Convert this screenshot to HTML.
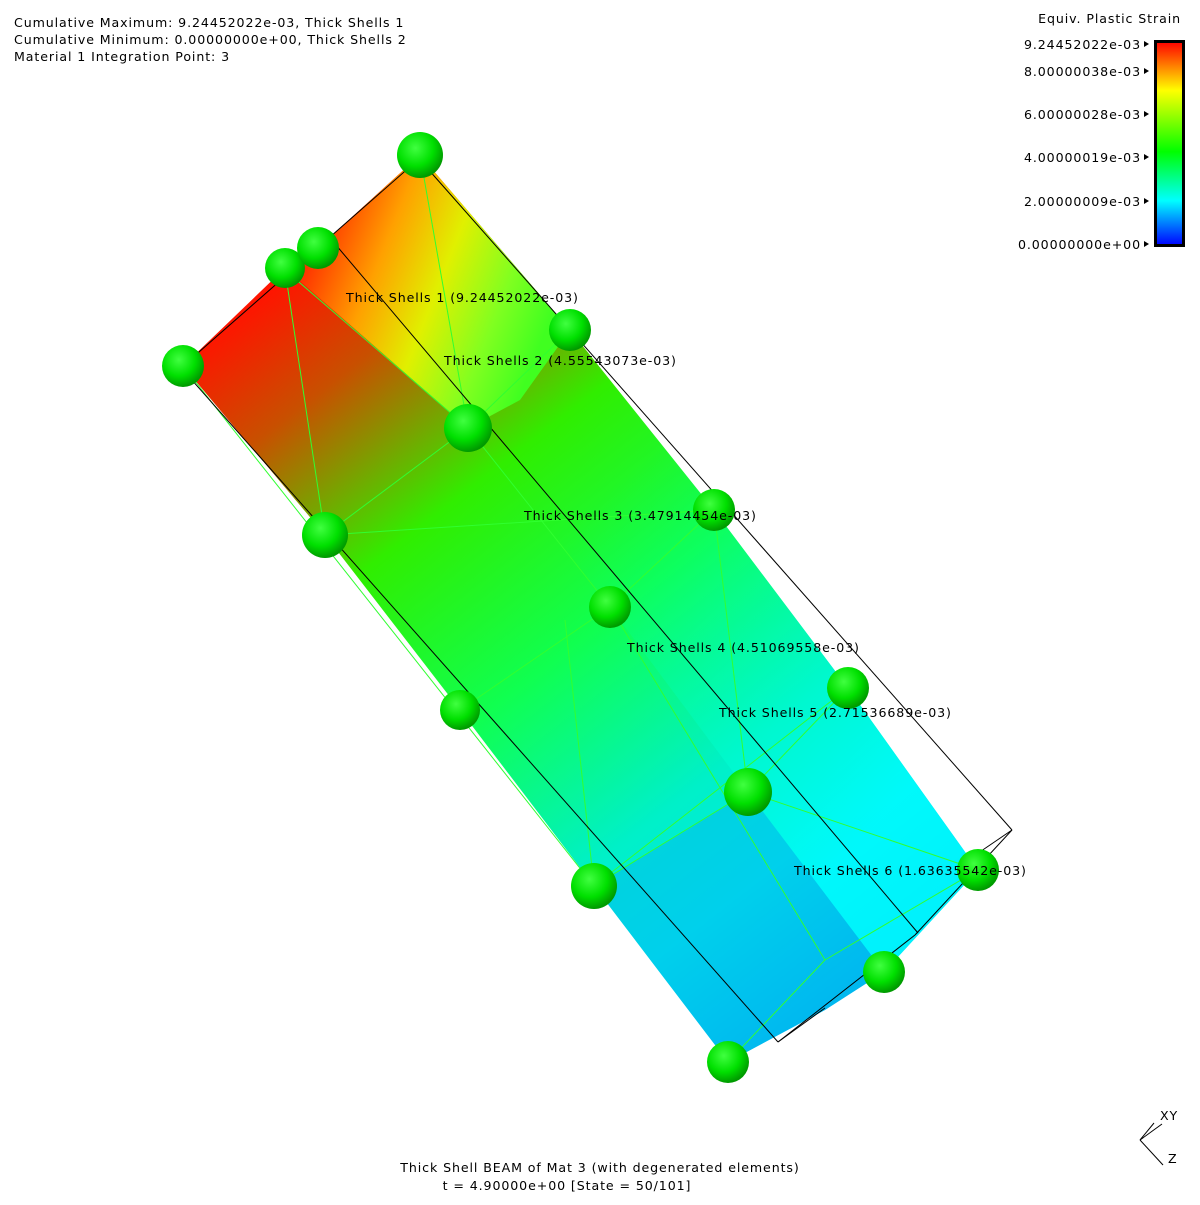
<!DOCTYPE html>
<html><head><meta charset="utf-8">
<style>
html,body{margin:0;padding:0;background:#fff;}
svg text{font-family:"DejaVu Sans","Liberation Sans",sans-serif;font-size:12.6px;fill:#000;letter-spacing:0.9px;}
</style></head>
<body>
<svg width="1200" height="1200" viewBox="0 0 1200 1200" xmlns="http://www.w3.org/2000/svg">
<defs>
<linearGradient id="beamGrad" gradientUnits="userSpaceOnUse" x1="230" y1="320" x2="800" y2="1060">
<stop offset="0" stop-color="#ff1400"/>
<stop offset="0.12" stop-color="#c85000"/>
<stop offset="0.3" stop-color="#30ee00"/>
<stop offset="0.5" stop-color="#10ff50"/>
<stop offset="0.7" stop-color="#00f0c8"/>
<stop offset="0.82" stop-color="#00e8e8"/>
<stop offset="1" stop-color="#00b0f0"/>
</linearGradient>
<linearGradient id="topGrad" gradientUnits="userSpaceOnUse" x1="300" y1="250" x2="540" y2="345">
<stop offset="0" stop-color="#ff2000"/>
<stop offset="0.3" stop-color="#ffa000"/>
<stop offset="0.55" stop-color="#e0f000"/>
<stop offset="0.8" stop-color="#80ff20"/>
<stop offset="1" stop-color="#40ff20"/>
</linearGradient>
<linearGradient id="rightGrad" gradientUnits="userSpaceOnUse" x1="600" y1="500" x2="900" y2="800">
<stop offset="0" stop-color="#00ff80" stop-opacity="0"/>
<stop offset="1" stop-color="#00ffff" stop-opacity="0.8"/>
</linearGradient>
<radialGradient id="sphere" cx="0.4" cy="0.35" r="0.65">
<stop offset="0" stop-color="#40ff40"/>
<stop offset="0.6" stop-color="#00e000"/>
<stop offset="1" stop-color="#009a00"/>
</radialGradient>
<linearGradient id="legendGrad" x1="0" y1="1" x2="0" y2="0">
<stop offset="0" stop-color="#0000ff"/>
<stop offset="0.22" stop-color="#00ffff"/>
<stop offset="0.46" stop-color="#00ff00"/>
<stop offset="0.76" stop-color="#ffff00"/>
<stop offset="0.88" stop-color="#ff8000"/>
<stop offset="1" stop-color="#ff0000"/>
</linearGradient>
</defs>

<g>
<text x="14" y="27">Cumulative Maximum: 9.24452022e-03, Thick Shells 1</text>
<text x="14" y="44">Cumulative Minimum: 0.00000000e+00, Thick Shells 2</text>
<text x="14" y="61">Material 1 Integration Point: 3</text>
</g>

<g>
<polygon fill="url(#beamGrad)"
 points="183,366 285,268 318,248 420,155 570,330 714,510 848,688 978,870 884,972 825,1010 728,1062 594,886 460,710 325,535"/>
<polygon fill="url(#topGrad)"
 points="285,268 318,248 420,155 570,330 520,400 468,428"/>
<polygon fill="url(#rightGrad)"
 points="570,330 714,510 848,688 978,870 884,972 748,792 610,607 468,428"/>
<polygon fill="#00b8f0" opacity="0.5"
 points="594,886 748,792 884,972 825,1010 728,1062"/>
<g stroke="#30ff30" stroke-width="1" fill="none">
<line x1="285" y1="270" x2="325" y2="535"/>
<line x1="285" y1="270" x2="468" y2="428"/>
<line x1="420" y1="155" x2="468" y2="428"/>
<line x1="468" y1="428" x2="570" y2="330"/>
<line x1="325" y1="535" x2="468" y2="428"/>
<line x1="460" y1="710" x2="610" y2="607"/>
<line x1="610" y1="607" x2="714" y2="510"/>
<line x1="325" y1="535" x2="714" y2="510"/>
<line x1="565" y1="620" x2="594" y2="886"/>
<line x1="714" y1="510" x2="748" y2="792"/>
<line x1="594" y1="886" x2="748" y2="792"/>
<line x1="748" y1="792" x2="848" y2="688"/>
<line x1="594" y1="886" x2="848" y2="688"/>
<line x1="748" y1="792" x2="978" y2="870"/>
<line x1="610" y1="607" x2="825" y2="960"/>
<line x1="825" y1="960" x2="728" y2="1062"/>
<line x1="825" y1="960" x2="978" y2="870"/>
<line x1="468" y1="428" x2="610" y2="607"/>
<line x1="183" y1="366" x2="594" y2="886"/>
</g>
<g stroke="#000" stroke-width="1" fill="none">
<line x1="183" y1="366" x2="420" y2="158"/>
<line x1="420" y1="160" x2="1012" y2="830"/>
<line x1="1012" y1="830" x2="915" y2="935"/>
<line x1="915" y1="935" x2="778" y2="1042"/>
<line x1="330" y1="238" x2="918" y2="933"/>
<line x1="183" y1="370" x2="778" y2="1042"/>
<line x1="778" y1="1042" x2="825" y2="1008"/>
<line x1="1012" y1="830" x2="968" y2="860"/>
</g>
</g>

<g>
<circle cx="420" cy="155" r="23" fill="url(#sphere)"/>
<circle cx="285" cy="268" r="20" fill="url(#sphere)"/>
<circle cx="318" cy="248" r="21" fill="url(#sphere)"/>
<circle cx="183" cy="366" r="21" fill="url(#sphere)"/>
<circle cx="570" cy="330" r="21" fill="url(#sphere)"/>
<circle cx="468" cy="428" r="24" fill="url(#sphere)"/>
<circle cx="325" cy="535" r="23" fill="url(#sphere)"/>
<circle cx="714" cy="510" r="21" fill="url(#sphere)"/>
<circle cx="610" cy="607" r="21" fill="url(#sphere)"/>
<circle cx="460" cy="710" r="20" fill="url(#sphere)"/>
<circle cx="848" cy="688" r="21" fill="url(#sphere)"/>
<circle cx="748" cy="792" r="24" fill="url(#sphere)"/>
<circle cx="594" cy="886" r="23" fill="url(#sphere)"/>
<circle cx="978" cy="870" r="21" fill="url(#sphere)"/>
<circle cx="884" cy="972" r="21" fill="url(#sphere)"/>
<circle cx="728" cy="1062" r="21" fill="url(#sphere)"/>
</g>

<g>
<text x="346" y="302">Thick Shells 1 (9.24452022e-03)</text>
<text x="444" y="365">Thick Shells 2 (4.55543073e-03)</text>
<text x="524" y="520">Thick Shells 3 (3.47914454e-03)</text>
<text x="627" y="652">Thick Shells 4 (4.51069558e-03)</text>
<text x="719" y="717">Thick Shells 5 (2.71536689e-03)</text>
<text x="794" y="875">Thick Shells 6 (1.63635542e-03)</text>
</g>

<g>
<text x="1181" y="23" text-anchor="end">Equiv. Plastic Strain</text>
<rect x="1155.5" y="41.5" width="28" height="204" fill="url(#legendGrad)" stroke="#000" stroke-width="3"/>
<g text-anchor="end">
<text x="1141" y="49">9.24452022e-03</text>
<text x="1141" y="76">8.00000038e-03</text>
<text x="1141" y="119">6.00000028e-03</text>
<text x="1141" y="162">4.00000019e-03</text>
<text x="1141" y="206">2.00000009e-03</text>
<text x="1141" y="249">0.00000000e+00</text>
</g>
<g fill="#000">
<polygon points="1144,41 1149,44 1144,47"/>
<polygon points="1144,68 1149,71 1144,74"/>
<polygon points="1144,111 1149,114 1144,117"/>
<polygon points="1144,154 1149,157 1144,160"/>
<polygon points="1144,198 1149,201 1144,204"/>
<polygon points="1144,241 1149,244 1144,247"/>
</g>
</g>

<g text-anchor="middle">
<text x="600" y="1172">Thick Shell BEAM of Mat 3 (with degenerated elements)</text>
<text x="567" y="1190">t = 4.90000e+00 [State = 50/101]</text>
</g>

<g stroke="#000" stroke-width="1">
<line x1="1140" y1="1140" x2="1154" y2="1123"/>
<line x1="1140" y1="1140" x2="1162" y2="1124"/>
<line x1="1140" y1="1140" x2="1163" y2="1165"/>
<text x="1160" y="1120" stroke="none">XY</text>
<text x="1168" y="1163" stroke="none">Z</text>
</g>
</svg>
</body></html>
